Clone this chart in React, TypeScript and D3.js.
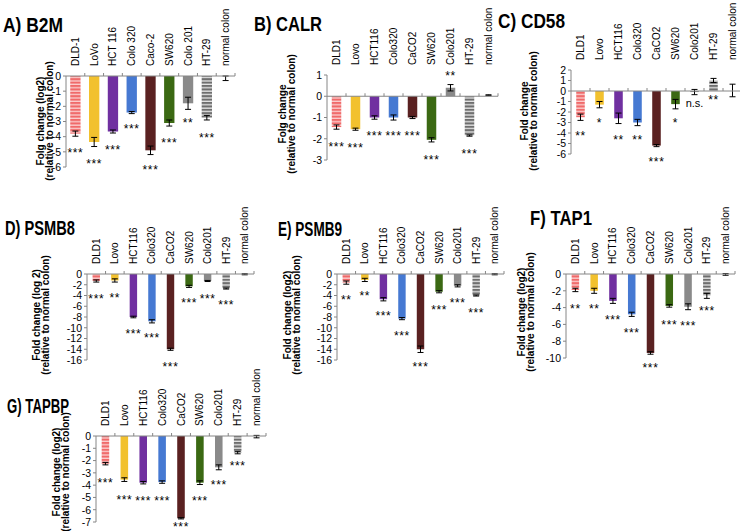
import * as d3 from "d3";

// cell lines (panel A uses slightly different spelling)
const CELLS_A = ["DLD-1", "LoVo", "HCT 116", "Colo 320", "Caco-2", "SW620", "Colo 201", "HT-29", "normal colon"];
const CELLS = ["DLD1", "Lovo", "HCT116", "Colo320", "CaCO2", "SW620", "Colo201", "HT-29", "normal colon"];

// A) B2M
const B2M_VALUES = [-3.8, -4.35, -3.66, -2.41, -4.9, -3.1, -1.8, -2.75, -0.15];
const B2M_ERRORS = [0.17, 0.3, 0.1, 0.07, 0.28, 0.2, 0.4, 0.15, 0.15];
const B2M_STARS = ["***", "***", "***", "***", "***", "***", "**", "***", ""];
const B2M_STAR_AT = [-4.9, -5.6, -4.7, -3.3, -6.0, -4.2, -2.9, -3.9, 0];

// B) CALR
const CALR_VALUES = [-1.45, -1.55, -1.0, -1.0, -1.0, -2.05, 0.4, -1.85, 0.05];
const CALR_ERRORS = [0.1, 0.05, 0.08, 0.12, 0.05, 0.1, 0.15, 0.03, 0.02];
const CALR_STARS = ["***", "***", "***", "***", "***", "***", "**", "***", ""];
const CALR_STAR_AT = [-2.25, -2.3, -1.72, -1.72, -1.72, -2.85, 1.08, -2.58, 0];

// C) CD58
const CD58_VALUES = [-2.5, -1.3, -2.6, -3.0, -5.2, -1.25, -0.1, 1.0, 0.05];
const CD58_ERRORS = [0.3, 0.3, 0.5, 0.3, 0.1, 0.45, 0.25, 0.2, 0.6];
const CD58_STARS = ["**", "*", "**", "**", "***", "*", "n.s.", "**", ""];
const CD58_STAR_AT = [-4.0, -2.8, -4.4, -4.4, -6.5, -2.8, -1.2, -0.6, 0];

// D) PSMB8
const PSMB8_VALUES = [-1.3, -1.2, -8.0, -8.8, -14.0, -2.3, -1.3, -2.7, -0.05];
const PSMB8_ERRORS = [0.2, 0.3, 0.15, 0.3, 0.2, 0.2, 0.1, 0.1, 0.1];
const PSMB8_STARS = ["***", "**", "***", "***", "***", "***", "***", "***", ""];
const PSMB8_STAR_AT = [-4.1, -4.0, -10.7, -11.4, -16.7, -4.8, -4.1, -5.2, 0];

// E) PSMB9
const PSMB9_VALUES = [-1.6, -1.1, -4.7, -8.3, -14.0, -3.3, -2.2, -4.0, -0.05];
const PSMB9_ERRORS = [0.3, 0.3, 0.3, 0.2, 0.6, 0.2, 0.2, 0.1, 0.1];
const PSMB9_STARS = ["**", "**", "***", "***", "***", "***", "***", "***", ""];
const PSMB9_STAR_AT = [-4.3, -3.5, -7.3, -11.0, -16.7, -6.1, -4.8, -6.7, 0];

// F) TAP1
const TAP1_VALUES = [-1.9, -2.0, -3.2, -4.8, -9.4, -3.8, -3.9, -2.6, -0.05];
const TAP1_ERRORS = [0.2, 0.3, 0.3, 0.25, 0.15, 0.15, 0.35, 0.3, 0.1];
const TAP1_STARS = ["**", "**", "***", "***", "***", "***", "***", "***", ""];
const TAP1_STAR_AT = [-3.8, -3.8, -5.1, -6.7, -10.8, -5.7, -5.9, -4.1, 0];

// G) TAPBP
const TAPBP_VALUES = [-2.25, -3.55, -3.8, -3.75, -6.7, -3.8, -2.55, -1.35, -0.05];
const TAPBP_ERRORS = [0.1, 0.15, 0.1, 0.1, 0.05, 0.15, 0.2, 0.1, 0.1];
const TAPBP_STARS = ["***", "***", "***", "***", "***", "***", "***", "***", ""];
const TAPBP_STAR_AT = [-3.6, -5.0, -5.1, -5.1, -7.15, -5.1, -3.8, -2.2, 0];

const BAR_FILLS = [
  "url(#stripeRed)",
  "#f2c12e",
  "#7030a0",
  "#4679d2",
  "#5a2121",
  "#3b6913",
  "#8a8a8a",
  "url(#stripeGrey)",
  "none",
];

type Panel = {
  title: string;
  tx: number;
  ty: number;
  tw: number;
  cats: string[];
  values: number[];
  errors: number[];
  stars: string[];
  starAt: number[];
  domain: [number, number];
  step: number;
  left: number;
  right: number;
  top: number;
  bottom: number;
  gap: number;
  yLabel: [string, string];
  lx: number;
  ly: number;
};

const PANELS: Panel[] = [
  { title: "A) B2M", tx: 3, ty: 32, tw: 60, cats: CELLS_A, values: B2M_VALUES, errors: B2M_ERRORS, stars: B2M_STARS, starAt: B2M_STAR_AT,
    domain: [-6, 0], step: 1, left: 66, right: 235, top: 76, bottom: 167, gap: 0.45, yLabel: ["Folg change (log2)", "(relative to normal colon)"], lx: 44, ly: 121 },
  { title: "B) CALR", tx: 254, ty: 31, tw: 68, cats: CELLS, values: CALR_VALUES, errors: CALR_ERRORS, stars: CALR_STARS, starAt: CALR_STAR_AT,
    domain: [-3, 1], step: 1, left: 327, right: 498, top: 75, bottom: 160, gap: 0.5, yLabel: ["Folg change", "(relative to normal colon)"], lx: 286, ly: 114 },
  { title: "C) CD58", tx: 498, ty: 28, tw: 67, cats: CELLS, values: CD58_VALUES, errors: CD58_ERRORS, stars: CD58_STARS, starAt: CD58_STAR_AT,
    domain: [-6, 2], step: 1, left: 571, right: 742, top: 70, bottom: 154, gap: 0.55, yLabel: ["Fold change", "(relative to normal colon)"], lx: 528, ly: 111 },
  { title: "D) PSMB8", tx: 5, ty: 235, tw: 70, cats: CELLS, values: PSMB8_VALUES, errors: PSMB8_ERRORS, stars: PSMB8_STARS, starAt: PSMB8_STAR_AT,
    domain: [-16, 0], step: 2, left: 87, right: 254, top: 274, bottom: 360, gap: 0.6, yLabel: ["Fold change (log 2)", "(relative to normal colon)"], lx: 40, ly: 315 },
  { title: "E) PSMB9", tx: 278, ty: 236, tw: 64, cats: CELLS, values: PSMB9_VALUES, errors: PSMB9_ERRORS, stars: PSMB9_STARS, starAt: PSMB9_STAR_AT,
    domain: [-16, 0], step: 2, left: 337, right: 504, top: 274, bottom: 360, gap: 0.6, yLabel: ["Fold change (log2)", "(relative to normal colon)"], lx: 291, ly: 315 },
  { title: "F) TAP1", tx: 530, ty: 225, tw: 62, cats: CELLS, values: TAP1_VALUES, errors: TAP1_ERRORS, stars: TAP1_STARS, starAt: TAP1_STAR_AT,
    domain: [-10, 0], step: 2, left: 566, right: 735, top: 274, bottom: 358, gap: 0.6, yLabel: ["Fold change (log2)", "(relative to normal colon)"], lx: 525, ly: 312 },
  { title: "G) TAPBP", tx: 7, ty: 413, tw: 62, cats: CELLS, values: TAPBP_VALUES, errors: TAPBP_ERRORS, stars: TAPBP_STARS, starAt: TAPBP_STAR_AT,
    domain: [-7, 0], step: 1, left: 96, right: 266, top: 436, bottom: 522, gap: 0.6, yLabel: ["Fold change (log2)", "(relative to normal colon)"], lx: 60, ly: 472 },
];

const FONT = "'Liberation Sans', Arial, sans-serif";
const AXIS = "#868686";

const BarPanel = ({ p }: { p: Panel }) => {
  const x = d3
    .scaleBand<string>()
    .domain(p.cats)
    .range([p.left, p.right])
    .paddingInner(p.gap)
    .paddingOuter(p.gap / 2);
  const y = d3.scaleLinear().domain(p.domain).range([p.bottom, p.top]);
  const ticks = d3.range(p.domain[0], p.domain[1] + 0.001, p.step);
  const y0 = y(0);
  const bw = x.bandwidth();
  const stepW = x.step();
  const cx = (c: string) => x(c)! + bw / 2;

  return (
    <g>
      <text
        x={p.tx}
        y={p.ty}
        fontFamily={FONT}
        fontWeight="bold"
        fontSize={20}
        textLength={p.tw}
        lengthAdjust="spacingAndGlyphs"
      >
        {p.title}
      </text>

      {/* category labels */}
      {p.cats.map((c) => (
        <text
          key={c}
          transform={`translate(${cx(c) + 3.5},${p.top - 10}) rotate(-90)`}
          fontFamily={FONT}
          fontSize={10}
        >
          {c}
        </text>
      ))}

      {/* y label */}
      <g
        transform={`translate(${p.lx},${p.ly}) rotate(-90)`}
        fontFamily={FONT}
        fontWeight="bold"
        fontSize={10}
        textAnchor="middle"
      >
        <text x={0} y={0}>{p.yLabel[0]}</text>
        <text x={0} y={8.5}>{p.yLabel[1]}</text>
      </g>

      {/* bars */}
      {p.values.map((v, i) => (
        <rect
          key={p.cats[i]}
          x={x(p.cats[i])!}
          width={bw}
          y={Math.min(y(v), y0)}
          height={Math.abs(y(v) - y0)}
          fill={BAR_FILLS[i]}
        />
      ))}

      {/* error bars */}
      {p.values.map((v, i) => {
        const xc = cx(p.cats[i]);
        const hi = y(v + p.errors[i]);
        const lo = y(v - p.errors[i]);
        return (
          <g key={i} stroke="#000" strokeWidth={1}>
            <line x1={xc} x2={xc} y1={hi} y2={lo} />
            <line x1={xc - 3} x2={xc + 3} y1={hi} y2={hi} />
            <line x1={xc - 3} x2={xc + 3} y1={lo} y2={lo} />
          </g>
        );
      })}

      {/* y axis */}
      <line x1={p.left} x2={p.left} y1={p.top} y2={p.bottom} stroke={AXIS} />
      {ticks.map((t) => (
        <g key={t}>
          <line x1={p.left - 3} x2={p.left} y1={y(t)} y2={y(t)} stroke={AXIS} />
          <text x={p.left - 5} y={y(t) + 3.8} textAnchor="end" fontFamily={FONT} fontSize={10.5}>
            {String(t)}
          </text>
        </g>
      ))}

      {/* x axis at zero */}
      <line x1={p.left} x2={p.right} y1={y0} y2={y0} stroke={AXIS} />
      {p.cats.map((c, i) => (
        <line
          key={c}
          x1={p.left + stepW * (i + 1)}
          x2={p.left + stepW * (i + 1)}
          y1={y0 - 3}
          y2={y0}
          stroke={AXIS}
        />
      ))}

      {/* significance */}
      {p.stars.map((s, i) =>
        s ? (
          <text
            key={i}
            x={cx(p.cats[i])}
            y={y(p.starAt[i]) + (s === "n.s." ? 3.5 : 6.8)}
            textAnchor="middle"
            fontFamily={FONT}
            fontSize={s === "n.s." ? 11 : 12}
            letterSpacing={s === "n.s." ? 0 : 0.6}
          >
            {s}
          </text>
        ) : null
      )}
    </g>
  );
};

export default function App() {
  return (
    <svg width={740} height={531} style={{ position: "absolute", left: 0, top: 0, background: "#fff" }}>
      <defs>
        <pattern id="stripeRed" patternUnits="userSpaceOnUse" width={6} height={3.4}>
          <rect width={6} height={3.4} fill="#f06a6a" />
          <rect y={2.1} width={6} height={1.3} fill="#fbd0d0" />
        </pattern>
        <pattern id="stripeGrey" patternUnits="userSpaceOnUse" width={6} height={3.4}>
          <rect width={6} height={3.4} fill="#6e6e6e" />
          <rect y={2.1} width={6} height={1.3} fill="#e6e6e6" />
        </pattern>
      </defs>
      {PANELS.map((p) => (
        <BarPanel key={p.title} p={p} />
      ))}
    </svg>
  );
}
